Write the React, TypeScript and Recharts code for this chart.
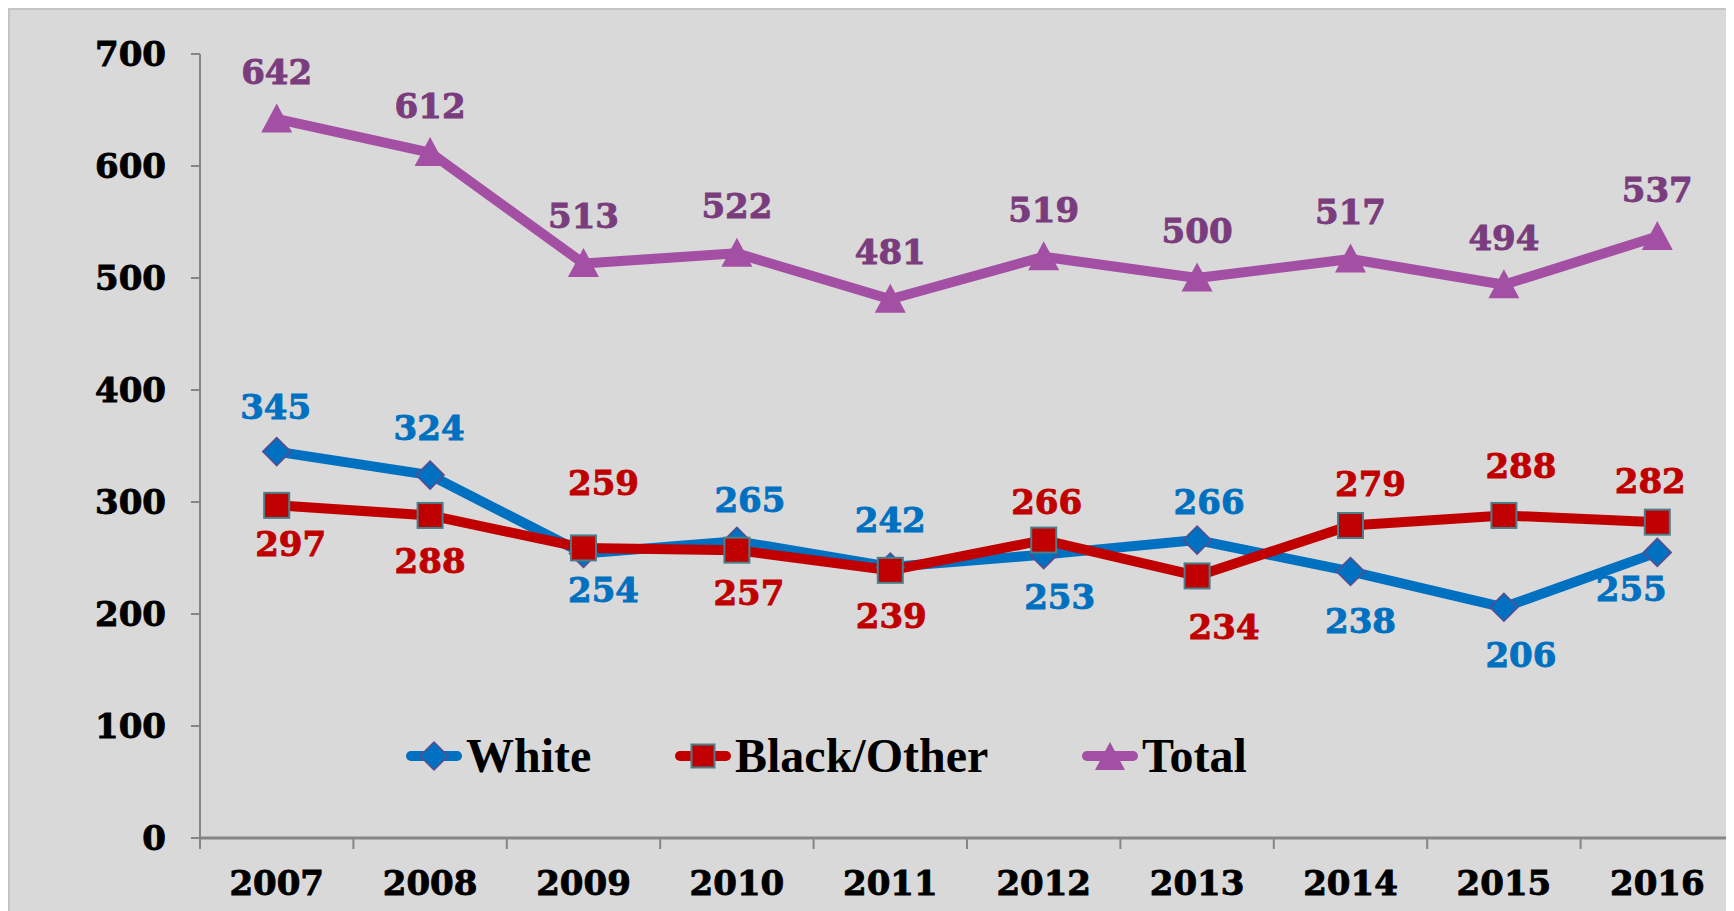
import React from 'react';
import { LineChart, Line, XAxis, YAxis, Legend, LabelList } from 'recharts';

const years = ['2007', '2008', '2009', '2010', '2011', '2012', '2013', '2014', '2015', '2016'];
const white = [345, 324, 254, 265, 242, 253, 266, 238, 206, 255];
const blackOther = [297, 288, 259, 257, 239, 266, 234, 279, 288, 282];
const total = [642, 612, 513, 522, 481, 519, 500, 517, 494, 537];
const yTicks = [0, 100, 200, 300, 400, 500, 600, 700];

// label offsets (dx, dy) from each point, as placed in the original
const whiteLabelPos = [[-1, -45], [-1, -47], [20, 36], [13, -41], [0, -47], [16, 42], [12, -38], [10, 50], [17, 48], [-26, 37]];
const blackLabelPos = [[14, 39], [0, 46], [20, -65], [12, 43], [1, 46], [3, -38], [27, 51], [20, -42], [17, -49], [-7, -41]];
const totalLabelPos = years.map(() => [0, -47]);

const data = years.map((year, i) => ({
  year,
  white: white[i],
  black: blackOther[i],
  total: total[i],
}));

const CHART_W = 1726;
const CHART_H = 903;
const Y_W = 192;
const BAND = (CHART_W - Y_W) / years.length;

const NUM_FONT = "'DejaVu Serif', serif";
const LEGEND_FONT = "'Liberation Serif', 'Times New Roman', serif";

const BLUE = '#0070C0';
const RED = '#C00000';
const PURPLE = '#A34FA4';
const PURPLE_TEXT = '#7A3C7D';

function Diamond({ cx, cy, r = 14 }: any) {
  if (cx == null || cy == null) return null;
  return (
    <polygon
      points={`${cx},${cy - r} ${cx + r},${cy} ${cx},${cy + r} ${cx - r},${cy}`}
      fill={BLUE}
      stroke="#5B4C8C"
      strokeWidth={1.5}
    />
  );
}

function Square({ cx, cy, s = 25 }: any) {
  if (cx == null || cy == null) return null;
  return <rect x={cx - s / 2} y={cy - s / 2} width={s} height={s} fill={RED} stroke="#4A7E88" strokeWidth={2} />;
}

function Triangle({ cx, cy, w = 31, h = 29 }: any) {
  if (cx == null || cy == null) return null;
  return (
    <polygon
      points={`${cx},${cy - h / 2 - 1} ${cx + w / 2},${cy + h / 2 - 1} ${cx - w / 2},${cy + h / 2 - 1}`}
      fill={PURPLE}
    />
  );
}

function makeLabel(pos: number[][], color: string) {
  return (props: any) => {
    const { x, y, value, index } = props;
    const [dx, dy] = pos[index] || [0, 0];
    return (
      <text
        x={x + dx}
        y={y + dy}
        textAnchor="middle"
        dominantBaseline="central"
        fontFamily={NUM_FONT}
        fontWeight="bold"
        fontSize={34}
        fill={color}
        stroke={color}
        strokeWidth={0.9}
      >
        {value}
      </text>
    );
  };
}

function XTick({ x, y, payload }: any) {
  const bx = x - BAND / 2;
  return (
    <g>
      <line x1={bx} y1={y} x2={bx} y2={y + 11} stroke="#868686" strokeWidth={2} />
      <text
        x={x}
        y={y + 57}
        textAnchor="middle"
        fontFamily={NUM_FONT}
        fontWeight="bold"
        fontSize={34}
        fill="#000"
        stroke="#000"
        strokeWidth={0.9}
      >
        {payload.value}
      </text>
    </g>
  );
}

const legendItems = [
  { name: 'White', color: BLUE, marker: 'diamond', left: 0 },
  { name: 'Black/Other', color: RED, marker: 'square', left: 269 },
  { name: 'Total', color: PURPLE, marker: 'triangle', left: 676 },
];

function LegendContent() {
  return (
    <div style={{ position: 'relative', width: 900, height: 44 }}>
      {legendItems.map((it) => (
        <div
          key={it.name}
          style={{ position: 'absolute', left: it.left, top: 0, display: 'flex', alignItems: 'center', height: 44 }}
        >
          <svg width={56} height={36}>
            <line x1={5} y1={18} x2={51} y2={18} stroke={it.color} strokeWidth={10} strokeLinecap="round" />
            {it.marker === 'diamond' && <Diamond cx={28} cy={18} r={14} />}
            {it.marker === 'square' && <Square cx={28} cy={18} s={23} />}
            {it.marker === 'triangle' && <Triangle cx={28} cy={19} w={30} h={28} />}
          </svg>
          <span
            style={{
              fontFamily: LEGEND_FONT,
              fontWeight: 'bold',
              fontSize: 48,
              color: '#000',
              marginLeft: 4,
              lineHeight: '44px',
            }}
          >
            {it.name}
          </span>
        </div>
      ))}
    </div>
  );
}

export default function App() {
  return (
    <div
      style={{
        position: 'relative',
        width: CHART_W,
        height: CHART_H,
        background: '#D9D9D9',
        boxShadow: 'inset 2px 2px 0 0 #C4C4C4',
      }}
    >
      <LineChart width={CHART_W} height={CHART_H} data={data} margin={{ top: 46, right: 0, bottom: 0, left: 0 }}>
        <XAxis
          dataKey="year"
          height={73}
          tickLine={false}
          tickSize={0}
          tickMargin={0}
          padding={{ left: BAND / 2, right: BAND / 2 }}
          axisLine={{ stroke: '#868686', strokeWidth: 3 }}
          tick={(props: any) => <XTick {...props} />}
          interval={0}
        />
        <YAxis
          width={Y_W}
          domain={[0, 700]}
          ticks={yTicks}
          interval={0}
          tickSize={9}
          tickMargin={25}
          axisLine={{ stroke: '#868686', strokeWidth: 2 }}
          tickLine={{ stroke: '#868686', strokeWidth: 2 }}
          tick={{ fontFamily: NUM_FONT, fontWeight: 'bold', fontSize: 34, fill: '#000', stroke: '#000', strokeWidth: 0.9 }}
        />
        <Legend
          verticalAlign="middle"
          content={() => <LegendContent />}
          wrapperStyle={{ position: 'absolute', left: 398, top: 726, width: 900, height: 44 }}
        />
        <Line
          dataKey="white"
          name="White"
          stroke={BLUE}
          strokeWidth={10}
          strokeLinejoin="round"
          isAnimationActive={false}
          dot={(p: any) => <Diamond key={`w${p.index}`} cx={p.cx} cy={p.cy} />}
          activeDot={false}
        >
          <LabelList dataKey="white" content={makeLabel(whiteLabelPos, BLUE)} />
        </Line>
        <Line
          dataKey="black"
          name="Black/Other"
          stroke={RED}
          strokeWidth={10}
          strokeLinejoin="round"
          isAnimationActive={false}
          dot={(p: any) => <Square key={`b${p.index}`} cx={p.cx} cy={p.cy} />}
          activeDot={false}
        >
          <LabelList dataKey="black" content={makeLabel(blackLabelPos, RED)} />
        </Line>
        <Line
          dataKey="total"
          name="Total"
          stroke={PURPLE}
          strokeWidth={10}
          strokeLinejoin="round"
          isAnimationActive={false}
          dot={(p: any) => <Triangle key={`t${p.index}`} cx={p.cx} cy={p.cy} />}
          activeDot={false}
        >
          <LabelList dataKey="total" content={makeLabel(totalLabelPos, PURPLE_TEXT)} />
        </Line>
      </LineChart>
    </div>
  );
}
